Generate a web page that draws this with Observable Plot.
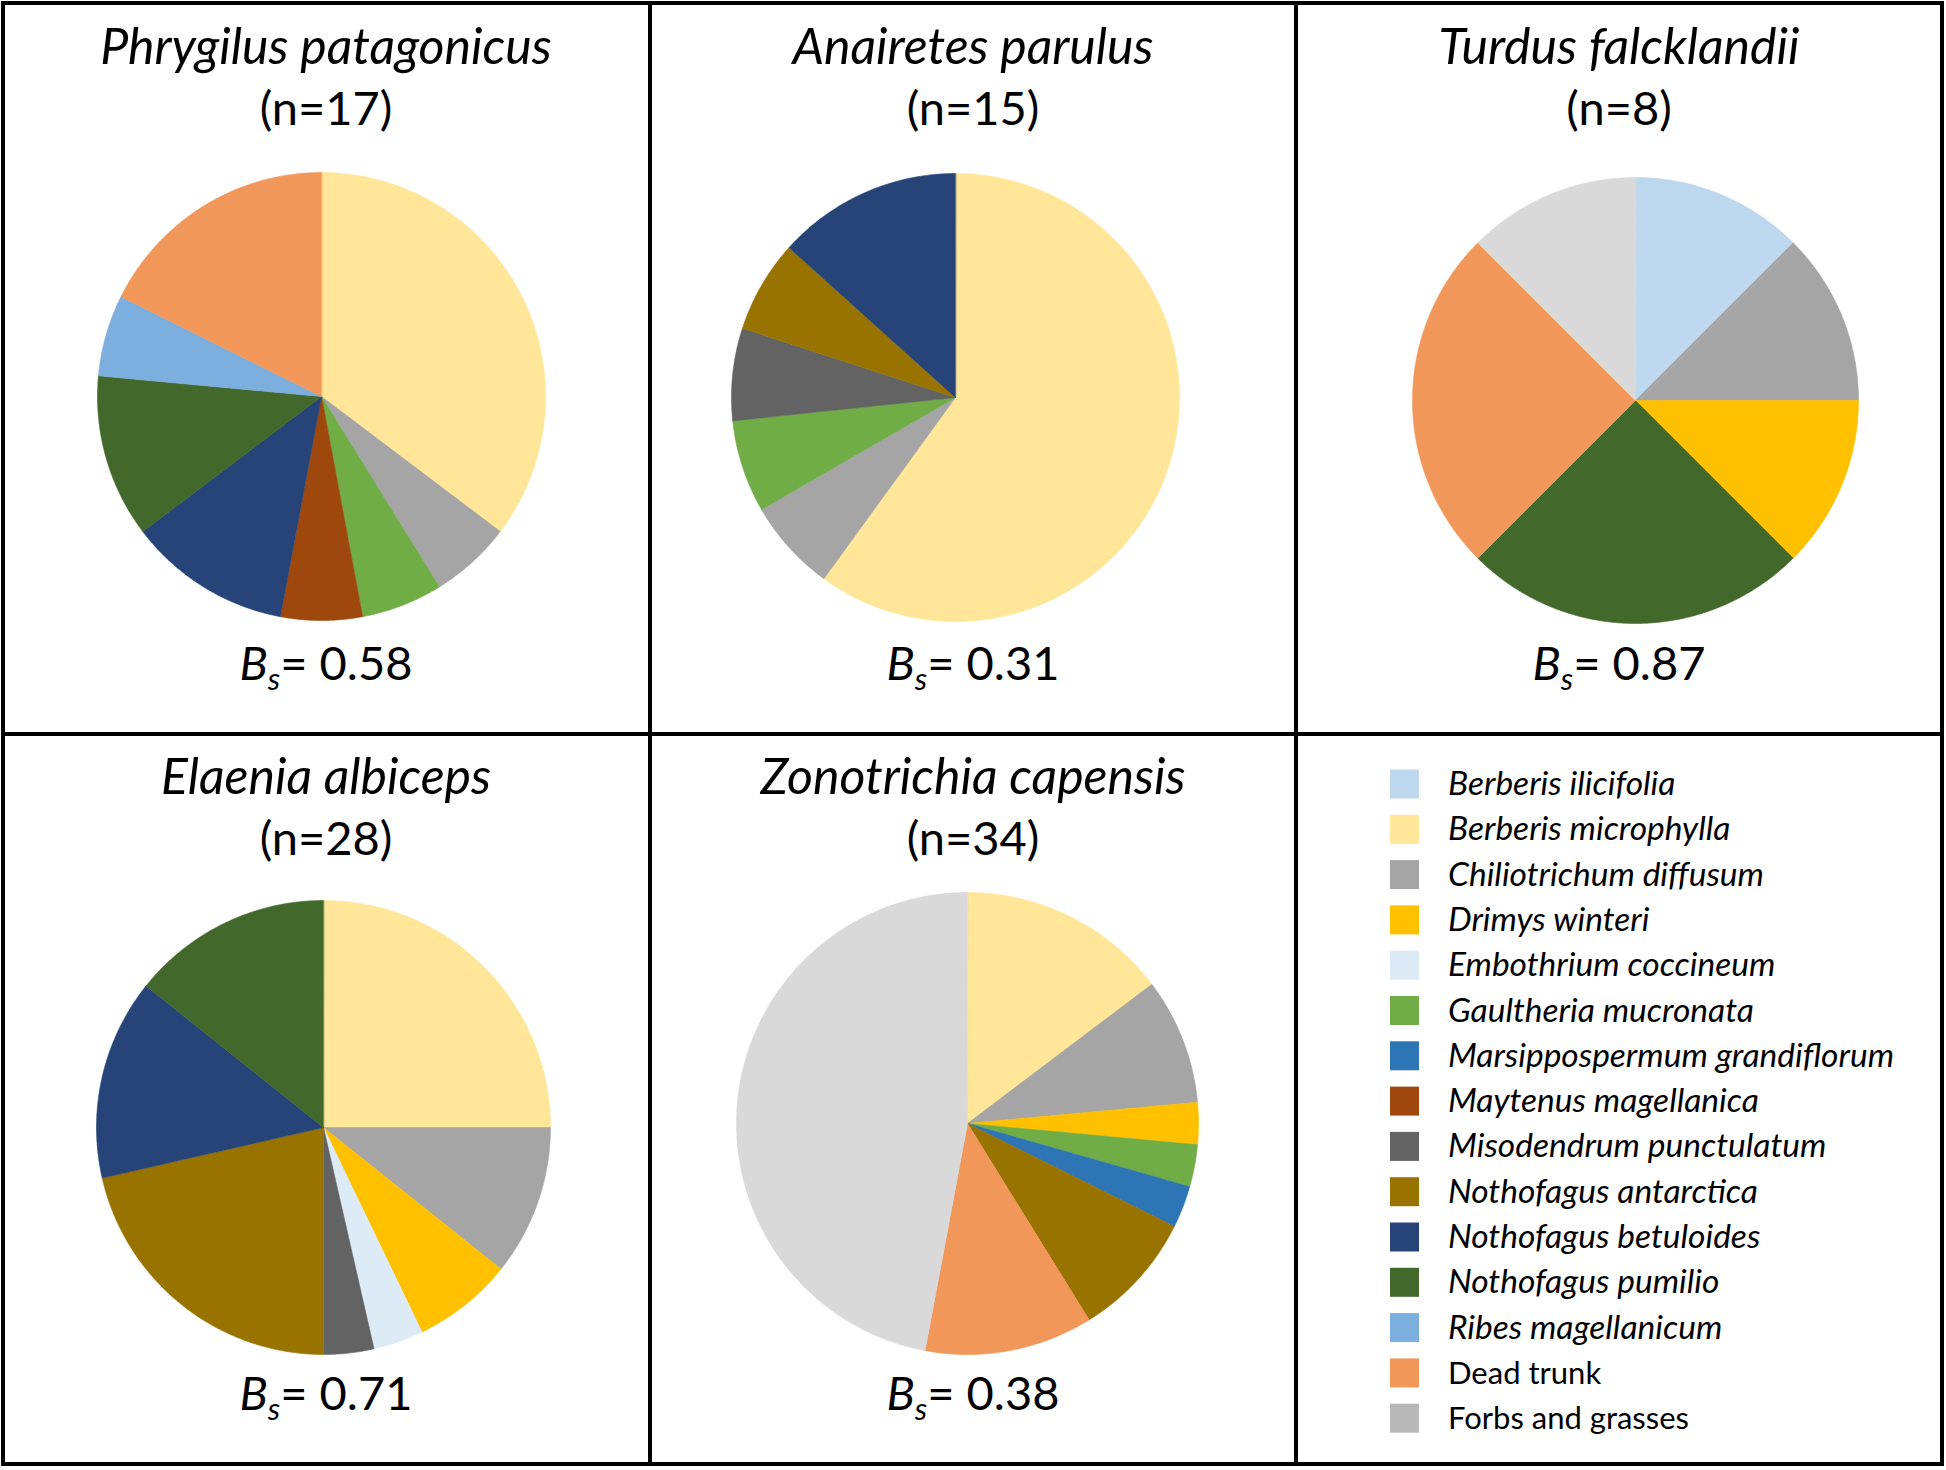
<!DOCTYPE html>
<html>
<head>
<meta charset="utf-8">
<script src="https://cdn.jsdelivr.net/npm/d3@7"></script>
<script src="https://cdn.jsdelivr.net/npm/@observablehq/plot@0.6"></script>
<style>
  html, body { margin: 0; padding: 0; background: #fff; }
  #fig { position: relative; width: 1946px; height: 1470px; overflow: hidden; background: #fff; }
  #overlay { position: absolute; left: 0; top: 0; }
  .pie { position: absolute; }
  text { font-family: Lato, "Open Sans", sans-serif; fill: #000; }
</style>
</head>
<body>
<div id="fig">
  <svg id="overlay" width="1946" height="1470" xmlns="http://www.w3.org/2000/svg"></svg>
</div>
<script>
// ---------- data ----------
const categories = [
  "Berberis ilicifolia", "Berberis microphylla", "Chiliotrichum diffusum", "Drimys winteri",
  "Embothrium coccineum", "Gaultheria mucronata", "Marsippospermum grandiflorum",
  "Maytenus magellanica", "Misodendrum punctulatum", "Nothofagus antarctica",
  "Nothofagus betuloides", "Nothofagus pumilio", "Ribes magellanicum",
  "Dead trunk", "Forbs and grasses"
];
const italicCategory = [true, true, true, true, true, true, true, true, true, true, true, true, true, false, false];

const birds = ["Phrygilus patagonicus", "Anairetes parulus", "Turdus falcklandii", "Elaenia albiceps", "Zonotrichia capensis"];
const sampleSizes = [17, 15, 8, 28, 34];
const bsValues = ["0.58", "0.31", "0.87", "0.71", "0.38"];

// counts per category (same order as categories)
const phrygilusCounts   = [0, 6, 1, 0, 0, 1, 0, 1, 0, 0, 2, 2, 1, 3, 0];
const anairetesCounts   = [0, 9, 1, 0, 0, 1, 0, 0, 1, 1, 2, 0, 0, 0, 0];
const turdusCounts      = [1, 0, 1, 1, 0, 0, 0, 0, 0, 0, 0, 2, 0, 2, 1];
const elaeniaCounts     = [0, 7, 3, 2, 1, 0, 0, 0, 1, 6, 4, 4, 0, 0, 0];
const zonotrichiaCounts = [0, 5, 3, 1, 0, 1, 1, 0, 0, 3, 0, 0, 0, 4, 16];
const countsByBird = [phrygilusCounts, anairetesCounts, turdusCounts, elaeniaCounts, zonotrichiaCounts];

// ---------- styles ----------
const colors = [
  "#BDD7EE", "#FFE699", "#A5A5A5", "#FFC000", "#DDEBF7", "#70AD47", "#2E75B6",
  "#9E480E", "#636363", "#997300", "#264478", "#43682B", "#7CAFDD", "#F1975A", "#D9D9D9"
];
const legendColors = colors.map((c, i) => i === 14 ? "#B8B8B8" : c);

// ---------- layout ----------
const panels = [
  {cx: 321, cy: 396, r: 224, tx: 326},
  {cx: 955, cy: 397, r: 224, tx: 973},
  {cx: 1635, cy: 400, r: 223, tx: 1619},
  {cx: 323, cy: 1127, r: 227, tx: 326},
  {cx: 967, cy: 1123, r: 231, tx: 973}
];
const rowTop = [0, 0, 0, 730, 730];

const NS = "http://www.w3.org/2000/svg";
const overlay = document.getElementById("overlay");
function el(name, attrs, parent = overlay) {
  const e = document.createElementNS(NS, name);
  for (const k in attrs) e.setAttribute(k, attrs[k]);
  parent.appendChild(e);
  return e;
}

// grid lines
el("rect", {x: 3, y: 3, width: 1939, height: 1461, fill: "none", stroke: "#000", "stroke-width": 4});
el("line", {x1: 650, y1: 3, x2: 650, y2: 1464, stroke: "#000", "stroke-width": 4});
el("line", {x1: 1296, y1: 3, x2: 1296, y2: 1464, stroke: "#000", "stroke-width": 4});
el("line", {x1: 3, y1: 734, x2: 1942, y2: 734, stroke: "#000", "stroke-width": 4});

// pie slices from counts
function slicePoints(counts) {
  const rows = categories.map((c, i) => ({cat: c, v: counts[i]})).filter(d => d.v > 0);
  const arcs = d3.pie().sort(null).value(d => d.v)(rows);
  const pts = [];
  for (const a of arcs) {
    const cat = a.data.cat;
    pts.push({cat, x: 0, y: 0});
    const n = Math.max(2, Math.ceil((a.endAngle - a.startAngle) / (Math.PI / 360)));
    for (let k = 0; k <= n; k++) {
      const t = a.startAngle + (a.endAngle - a.startAngle) * k / n;
      pts.push({cat, x: Math.sin(t), y: Math.cos(t)});
    }
  }
  return pts;
}

const fig = document.getElementById("fig");
const TITLE_IT = 50, TITLE_RM = 47;
birds.forEach((bird, i) => {
  const p = panels[i];
  const m = 2;
  const chart = Plot.plot({
    width: 2 * p.r + 2 * m,
    height: 2 * p.r + 2 * m,
    margin: m,
    x: {domain: [-1, 1], axis: null},
    y: {domain: [-1, 1], axis: null},
    color: {domain: categories, range: colors},
    style: {background: "transparent", overflow: "visible"},
    marks: [
      Plot.line(slicePoints(countsByBird[i]), {
        x: "x", y: "y", z: "cat", fill: "cat", stroke: "cat",
        strokeWidth: 0.6, curve: "linear-closed"
      })
    ]
  });
  const wrap = document.createElement("div");
  wrap.className = "pie";
  wrap.style.left = (p.cx - p.r - m) + "px";
  wrap.style.top = (p.cy - p.r - m) + "px";
  wrap.appendChild(chart);
  fig.appendChild(wrap);

  const y0 = rowTop[i];
  el("text", {x: p.tx, y: y0 + 64, "text-anchor": "middle", "font-size": TITLE_IT, "font-style": "italic"}).textContent = bird;
  el("text", {x: p.tx, y: y0 + 125, "text-anchor": "middle", "font-size": TITLE_RM}).textContent = `(n=${sampleSizes[i]})`;
  const bs = el("text", {x: p.tx, y: y0 + 680, "text-anchor": "middle", "font-size": TITLE_RM});
  const b = el("tspan", {"font-style": "italic"}, bs); b.textContent = "B";
  const s = el("tspan", {"font-style": "italic", "font-size": 31, dy: 10}, bs); s.textContent = "s";
  const rest = el("tspan", {dy: -10}, bs); rest.textContent = "= " + bsValues[i];
});

// legend
const LX = 1390, LY0 = 784, LDY = 45.3, SW = 29;
categories.forEach((c, i) => {
  const y = LY0 + i * LDY;
  el("rect", {x: LX, y: y - SW / 2, width: SW, height: SW, fill: legendColors[i]});
  el("text", {
    x: 1448, y: y + 11,
    "font-size": italicCategory[i] ? 33.5 : 31,
    "font-style": italicCategory[i] ? "italic" : "normal"
  }).textContent = c;
});
</script>
</body>
</html>
